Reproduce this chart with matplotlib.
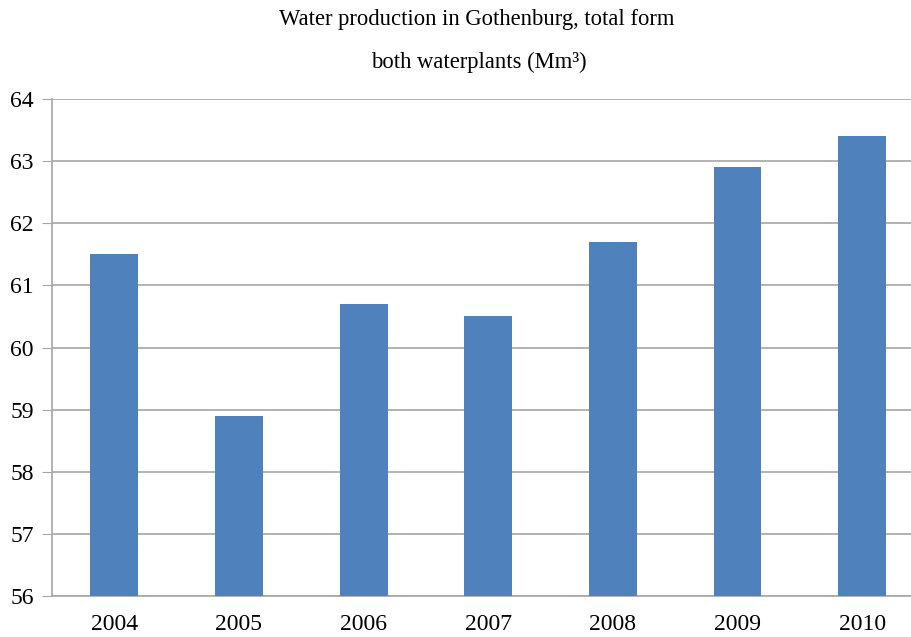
import matplotlib.pyplot as plt

years = ['2004', '2005', '2006', '2007', '2008', '2009', '2010']
production = [61.5, 58.9, 60.7, 60.5, 61.7, 62.9, 63.4]
yticks = [56, 57, 58, 59, 60, 61, 62, 63, 64]

plt.rcParams['font.family'] = ['Liberation Serif', 'DejaVu Serif']

fig = plt.figure(figsize=(9.12, 6.37), dpi=100)
ax = fig.add_axes([52 / 912, 1 - 596 / 637, 860 / 912, (596 - 99) / 637])

ax.bar(range(len(years)), production, width=0.385, color='#4f81bd', zorder=3)
ax.set_xlim(-0.5, 6.4)
ax.set_ylim(56, 64)
ax.set_yticks(yticks)
ax.set_xticks(range(len(years)))
ax.set_xticklabels(years)
ax.grid(axis='y', color='#a6a6a6', linewidth=1.2, zorder=0)
for s in ['top', 'right']:
    ax.spines[s].set_visible(False)
for s in ['left', 'bottom']:
    ax.spines[s].set_color('#a6a6a6')
    ax.spines[s].set_linewidth(1.2)
ax.tick_params(axis='y', length=7, color='#a6a6a6', labelsize=17, pad=6)
ax.tick_params(axis='x', length=0, labelsize=17, pad=13)

fig.text(477 / 912, 1 - 20 / 637, 'Water production in Gothenburg, total form',
         ha='center', va='center', fontsize=16.3)
fig.text(479 / 912, 1 - 62 / 637, 'both waterplants (Mm³)',
         ha='center', va='center', fontsize=16.3)

fig.savefig('out.png')
